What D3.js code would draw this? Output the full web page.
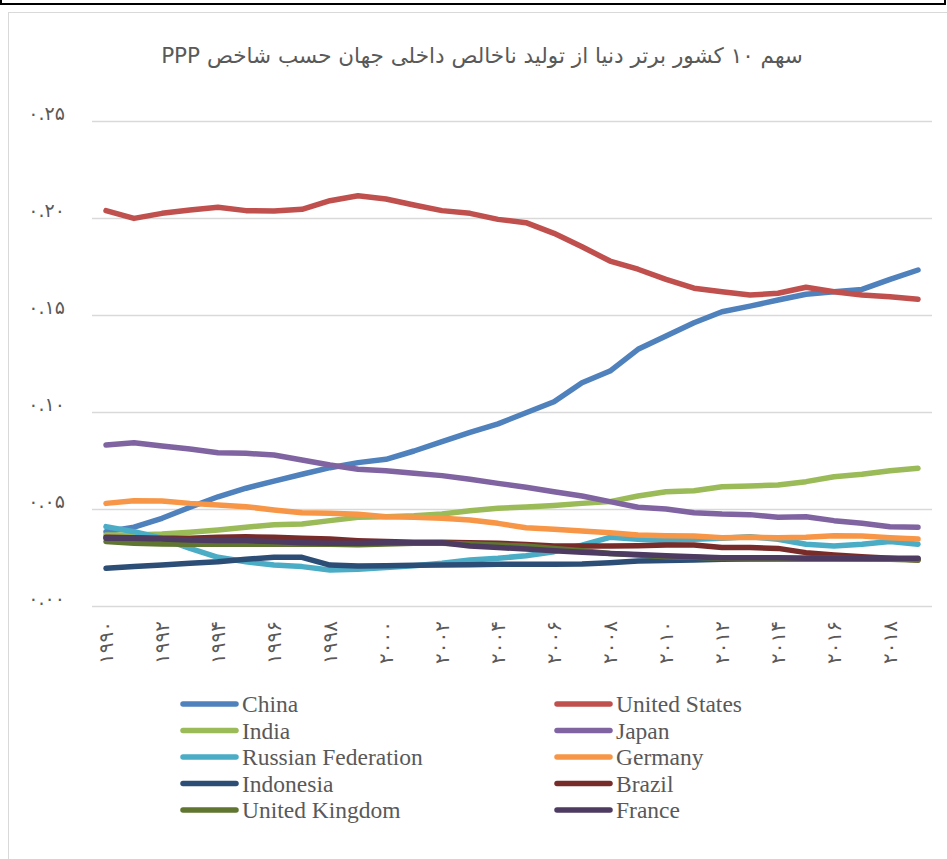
<!DOCTYPE html>
<html>
<head>
<meta charset="utf-8">
<script src="https://cdn.jsdelivr.net/npm/d3@7"></script>
<style>
  body { margin: 0; background: #fff; }
  svg { display: block; }
</style>
</head>
<body>
<svg id="chart" width="947" height="859"></svg>
<script>
var years = d3.range(1990, 2020);
var tickYears = [1990, 1992, 1994, 1996, 1998, 2000, 2002, 2004, 2006, 2008, 2010, 2012, 2014, 2016, 2018];
var yTicks = [0, 0.05, 0.10, 0.15, 0.20, 0.25];

var china = [0.0383,0.0406,0.0452,0.0509,0.0563,0.0607,0.0644,0.0679,0.0713,0.0739,0.0756,0.0799,0.0847,0.0895,0.0939,0.0996,0.1053,0.1151,0.1211,0.1323,0.1392,0.1460,0.1517,0.1546,0.1577,0.1607,0.1620,0.1632,0.1684,0.1732];
var unitedStates = [0.2038,0.1998,0.2024,0.2041,0.2055,0.2038,0.2036,0.2045,0.2089,0.2115,0.2098,0.2067,0.2038,0.2024,0.1993,0.1976,0.1921,0.1852,0.1778,0.1736,0.1684,0.1638,0.1620,0.1603,0.1612,0.1643,0.1620,0.1603,0.1594,0.1581];
var india = [0.0366,0.0366,0.0371,0.0380,0.0392,0.0406,0.0419,0.0423,0.0440,0.0457,0.0460,0.0465,0.0474,0.0491,0.0504,0.0510,0.0518,0.0529,0.0538,0.0567,0.0589,0.0594,0.0615,0.0619,0.0624,0.0641,0.0666,0.0679,0.0697,0.0710];
var japan = [0.0830,0.0842,0.0825,0.0809,0.0790,0.0787,0.0778,0.0753,0.0727,0.0705,0.0697,0.0684,0.0672,0.0653,0.0632,0.0612,0.0589,0.0567,0.0538,0.0509,0.0500,0.0481,0.0474,0.0471,0.0457,0.0460,0.0440,0.0426,0.0409,0.0406];
var russia = [0.0409,0.0383,0.0349,0.0297,0.0251,0.0228,0.0211,0.0203,0.0186,0.0189,0.0199,0.0208,0.0220,0.0237,0.0246,0.0259,0.0280,0.0314,0.0354,0.0344,0.0337,0.0344,0.0349,0.0357,0.0344,0.0318,0.0309,0.0318,0.0332,0.0318];
var germany = [0.0529,0.0543,0.0541,0.0529,0.0521,0.0512,0.0495,0.0481,0.0478,0.0473,0.0460,0.0457,0.0452,0.0443,0.0426,0.0403,0.0395,0.0387,0.0378,0.0366,0.0362,0.0361,0.0352,0.0354,0.0352,0.0354,0.0362,0.0361,0.0352,0.0345];
var indonesia = [0.0194,0.0203,0.0211,0.0220,0.0228,0.0241,0.0251,0.0251,0.0211,0.0206,0.0208,0.0210,0.0211,0.0213,0.0215,0.0215,0.0215,0.0216,0.0223,0.0232,0.0234,0.0237,0.0241,0.0242,0.0242,0.0242,0.0242,0.0242,0.0242,0.0242];
var brazil = [0.0354,0.0352,0.0349,0.0349,0.0354,0.0357,0.0354,0.0349,0.0345,0.0337,0.0332,0.0328,0.0328,0.0326,0.0323,0.0317,0.0309,0.0309,0.0309,0.0311,0.0314,0.0314,0.0302,0.0301,0.0297,0.0275,0.0263,0.0254,0.0246,0.0237];
var unitedKingdom = [0.0332,0.0323,0.0320,0.0318,0.0318,0.0318,0.0318,0.0318,0.0318,0.0316,0.0320,0.0323,0.0323,0.0320,0.0314,0.0309,0.0297,0.0285,0.0271,0.0263,0.0254,0.0251,0.0246,0.0244,0.0246,0.0246,0.0246,0.0244,0.0241,0.0237];
var france = [0.0349,0.0349,0.0345,0.0340,0.0337,0.0337,0.0332,0.0326,0.0323,0.0323,0.0326,0.0326,0.0326,0.0309,0.0301,0.0294,0.0285,0.0277,0.0271,0.0266,0.0259,0.0254,0.0249,0.0249,0.0249,0.0246,0.0246,0.0246,0.0246,0.0246];

var seriesNames = ["China", "United States", "India", "Japan", "Russian Federation", "Germany", "Indonesia", "Brazil", "United Kingdom", "France"];
var seriesValues = [china, unitedStates, india, japan, russia, germany, indonesia, brazil, unitedKingdom, france];
var seriesColors = ["#4F81BD", "#C0504D", "#9BBB59", "#8064A2", "#4BACC6", "#F79646", "#2C4D75", "#772C2A", "#5F7530", "#4D3B62"];

var title = "سهم ۱۰ کشور برتر دنیا از تولید ناخالص داخلی جهان حسب شاخص PPP";

// latin digits -> persian digits
function toFa(s){
  return String(s).replace(/[0-9]/g, function(c){ return String.fromCharCode(0x06F0 + (+c)); });
}

var svg = d3.select("#chart");
var faFont = "'DejaVu Sans', sans-serif";
var textColor = "#595959";

// frame of the box above and the chart area border
svg.append("rect")
   .attr("x", 1).attr("y", -20).attr("width", 944).attr("height", 24)
   .attr("fill", "none").attr("stroke", "#000").attr("stroke-width", 2);
svg.append("rect")
   .attr("x", 8.5).attr("y", 12.5).attr("width", 960).attr("height", 900)
   .attr("fill", "#fff").attr("stroke", "#D9D9D9").attr("stroke-width", 1);

svg.append("text")
   .attr("x", 482).attr("y", 63)
   .attr("direction", "rtl")
   .attr("text-anchor", "middle")
   .style("font-family", faFont)
   .style("font-size", "21.5px")
   .attr("fill", textColor)
   .text(title);

var x = d3.scaleBand().domain(years).range([92, 932]).padding(0);
var y = d3.scaleLinear().domain([0, 0.25]).range([606, 121]);

// gridlines
svg.append("g")
   .selectAll("line")
   .data(yTicks)
   .enter().append("line")
   .attr("x1", 92).attr("x2", 932)
   .attr("y1", function(d){ return Math.round(y(d)) + 0.5; })
   .attr("y2", function(d){ return Math.round(y(d)) + 0.5; })
   .attr("stroke", "#D9D9D9")
   .attr("stroke-width", 1.3);

// y labels
svg.append("g")
   .selectAll("text")
   .data(yTicks)
   .enter().append("text")
   .attr("x", 65)
   .attr("y", function(d){ return y(d) - 1; })
   .attr("text-anchor", "end")
   .attr("direction", "ltr")
   .style("font-family", faFont)
   .style("font-size", "19px")
   .attr("fill", textColor)
   .text(function(d){ return toFa(d.toFixed(2)); });

// x labels, rotated
svg.append("g")
   .selectAll("text")
   .data(tickYears)
   .enter().append("text")
   .attr("transform", function(d){
     return "translate(" + (x(d) + x.bandwidth() / 2 + 7) + ",621) rotate(-90)";
   })
   .attr("text-anchor", "end")
   .style("font-family", faFont)
   .style("font-size", "20px")
   .attr("fill", textColor)
   .text(function(d){ return toFa(d); });

var line = d3.line()
  .x(function(d, i){ return x(years[i]) + x.bandwidth() / 2; })
  .y(function(d){ return y(d); });

svg.append("g")
   .selectAll("path")
   .data(seriesValues)
   .enter().append("path")
   .attr("d", function(d){ return line(d); })
   .attr("fill", "none")
   .attr("stroke", function(d, i){ return seriesColors[i]; })
   .attr("stroke-width", 5.5)
   .attr("stroke-linecap", "round")
   .attr("stroke-linejoin", "round");

// legend, two columns
var legend = svg.append("g")
  .selectAll("g")
  .data(seriesNames)
  .enter().append("g")
  .attr("transform", function(d, i){
    var col = i % 2, row = Math.floor(i / 2);
    return "translate(" + (col === 0 ? 183 : 557) + "," + (704 + row * 26.5) + ")";
  });

legend.append("line")
  .attr("x1", 0).attr("x2", 53)
  .attr("y1", 0).attr("y2", 0)
  .attr("stroke", function(d, i){ return seriesColors[i]; })
  .attr("stroke-width", 5.5)
  .attr("stroke-linecap", "round");

legend.append("text")
  .attr("x", 59).attr("y", 8)
  .style("font-family", "'Liberation Serif', serif")
  .style("font-size", "23.5px")
  .attr("fill", textColor)
  .text(function(d){ return d; });
</script>
</body>
</html>
